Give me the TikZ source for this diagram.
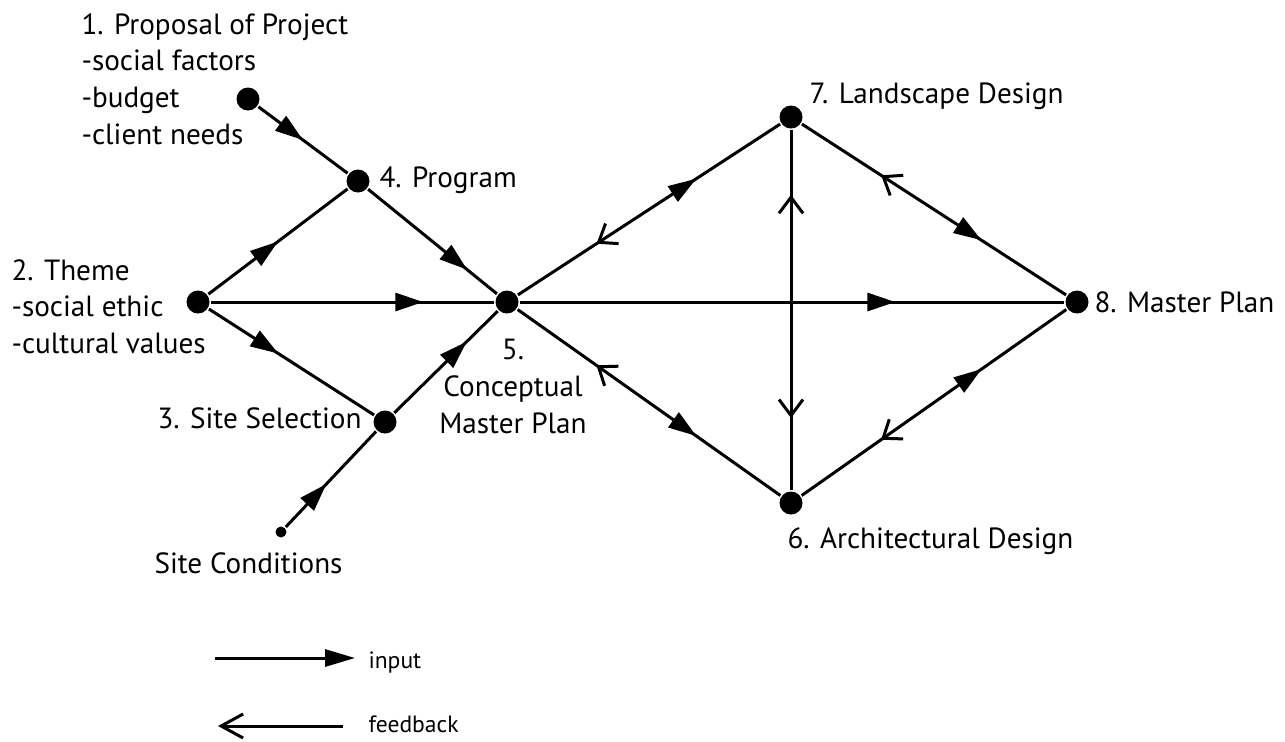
\documentclass[tikz,border=0pt]{standalone}
\usepackage{fontspec}
\setmainfont{PT Sans}
\usetikzlibrary{arrows.meta,decorations.markings}
\begin{document}
\begin{tikzpicture}[x=0.5pt,y=-0.5pt, line width=1.5pt,
  dot/.style={circle,fill,inner sep=0pt,minimum size=11.5pt},
  sdot/.style={circle,fill,inner sep=0pt,minimum size=5.5pt},
  lbl/.style={font=\fontsize{14.6}{18.3}\selectfont, inner sep=0pt},
  leg/.style={font=\fontsize{11.8}{13}\selectfont, inner sep=0pt},
  intip/.tip={Triangle[length=14pt,width=9pt]},
  fbtip/.tip={Straight Barb[length=8pt,width=12pt]},
  fw/.style={postaction=decorate, decoration={markings, mark=at position #1 with {\arrow{intip}}}},
  fb/.style 2 args={postaction=decorate, decoration={markings,
     mark=at position #1 with {\arrowreversed{fbtip}},
     mark=at position #2 with {\arrow{intip}}}},
  fbonly/.style={postaction=decorate, decoration={markings, mark=at position #1 with {\arrow{fbtip}}}},
]
\useasboundingbox (0,0) rectangle (1285,741);

% nodes
\node[dot] (p1) at (248,99) {};
\node[dot] (p4) at (358,181) {};
\node[dot] (p2) at (198,302) {};
\node[dot] (p3) at (385,422) {};
\node[sdot] (sc) at (281,532) {};
\node[dot] (p5) at (507,302) {};
\node[dot] (p7) at (791,117) {};
\node[dot] (p6) at (791,503) {};
\node[dot] (p8) at (1077,302) {};

% labels
\node[lbl, anchor=north west, align=left] (t1) at (80,12) {1. Proposal of Project\\-social factors\\-budget\\-client needs};
\node[lbl, anchor=base west] (t4) at (378,187) {4. Program};
\node[lbl, anchor=north west, align=left] (t2) at (10,258) {2. Theme\\-social ethic\\-cultural values};
\node[lbl, anchor=base east] (t3) at (363,428) {3. Site Selection};
\node[lbl, anchor=base west] (tsc) at (153,573) {Site Conditions};
\node[lbl, anchor=north, align=center] (t5) at (513,338) {5.\\Conceptual\\Master Plan};
\node[lbl, anchor=base west] (t7) at (808,103) {7. Landscape Design};
\node[lbl, anchor=base west] (t8) at (1093,312) {8. Master Plan};
\node[lbl, anchor=base west] (t6) at (786,548) {6. Architectural Design};

% connectors
\draw[fw=0.5] (p1) -- (p4);
\draw[fw=0.5] (p2) -- (p4);
\draw[fw=0.77] (p4) -- (p5);
\draw[fw=0.75] (p2) -- (p5);
\draw[fw=0.42] (p2) -- (p3);
\draw[fw=0.7] (p3) -- (p5);
\draw[fw=0.45] (sc) -- (p3);
\draw[fw=0.69] (p5) -- (p8);
\draw[fb={0.3}{0.68}] (p5) -- (p7);
\draw[fb={0.3}{0.68}] (p5) -- (p6);
\draw[fb={0.3}{0.68}] (p7) -- (p8);
\draw[fb={0.3}{0.68}] (p6) -- (p8);
\draw[fbonly=0.82] (p6) -- (p7);
\draw[fbonly=0.8] (p7) -- (p6);

% legend
\coordinate (li1) at (215,658);
\coordinate (li2) at (355,658);
\coordinate (lf1) at (343,726);
\coordinate (lf2) at (218,726);
\draw[-{Triangle[length=15pt,width=8.5pt]}] (li1) -- (li2);
\draw[-{Straight Barb[length=11pt,width=12pt]}] (lf1) -- (lf2);
\node[leg, anchor=base west] (lin) at (367,668) {input};
\node[leg, anchor=base west] (lfb) at (367,732) {feedback};
\end{tikzpicture}
\end{document}
